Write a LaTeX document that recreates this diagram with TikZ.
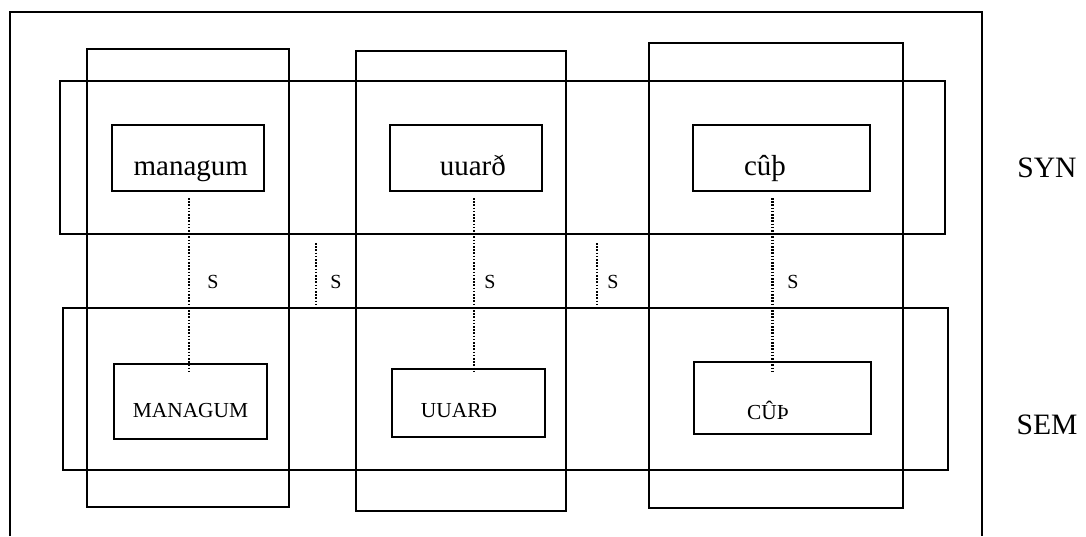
\documentclass[tikz,border=0pt]{standalone}
\usepackage{fontspec}
\setmainfont{Liberation Serif}
\usepackage{tikz}
\usetikzlibrary{positioning,calc}
\tikzset{
    x=0.5pt,
    y=-0.5pt,
    band/.style = {
        draw,
        shape=rectangle,
        inner sep=0pt,
        minimum width=442.5pt,
        line width=1pt
    },
    pillar/.style = {
        draw,
        shape=rectangle,
        inner sep=0pt,
        line width=1pt
    },
    wordbox/.style = {
        draw,
        shape=rectangle,
        inner sep=0pt,
        line width=1pt
    },
    word/.style = {
        anchor=base,
        inner sep=0pt,
        font=\fontsize{14.5}{17}\selectfont
    },
    semword/.style = {
        anchor=base,
        inner sep=0pt,
        font=\fontsize{10.7}{13}\selectfont
    },
    slabel/.style = {
        anchor=base,
        inner sep=0pt,
        font=\fontsize{10}{12}\selectfont
    },
    side/.style = {
        anchor=base,
        inner sep=0pt,
        font=\fontsize{14.8}{17}\selectfont
    },
    link/.style = {
        line width=1.3pt,
        dash pattern=on 0.8pt off 0.8pt
    },
}
\begin{document}
\begin{tikzpicture}
                \useasboundingbox (0,0) rectangle (1086,536);

                \node[band, minimum height=76.5pt] (syn) at (502.5,157.5) {};
                \node[band, minimum height=81pt] (sem) at (505.5,389) {};
                \node[pillar, minimum width=101pt, minimum height=229pt] (col1) at (188,278) {};
                \node[pillar, minimum width=105pt, minimum height=230pt] (col2) at (461,281) {};
                \node[pillar, minimum width=127pt, minimum height=232.5pt] (col3) at (776,275.5) {};

                \node[wordbox, minimum width=76pt, minimum height=33pt] (w1) at (188,158) {};
                \node[wordbox, minimum width=76pt, minimum height=33pt] (w2) at (466,158) {};
                \node[wordbox, minimum width=88.5pt, minimum height=33pt] (w3) at (781.5,158) {};
                \node[wordbox, minimum width=76.5pt, minimum height=37.5pt] (m1) at (190.5,401.5) {};
                \node[wordbox, minimum width=76.5pt, minimum height=34pt] (m2) at (468.5,403) {};
                \node[wordbox, minimum width=88.5pt, minimum height=36pt] (m3) at (782.5,398) {};

                \node[word] (w1text) at (190.8,175) {managum};
                \node[word] (w2text) at (472.8,175) {uuarð};
                \node[word] (w3text) at (765,175) {cûþ};
                \node[semword] (m1text) at (190.5,417.7) {MANAGUM};
                \node[semword] (m2text) at (459,417.7) {UUARÐ};
                \node[semword] (m3text) at (768,419) {CÛÞ};

                \node[side] (synlabel) at (1047,177) {SYN};
                \node[side] (semlabel) at (1047,434) {SEM};

                % outer frame, open at the bottom
                \coordinate (fbl) at (10,536);
                \coordinate (ftl) at (10,12);
                \coordinate (ftr) at (982,12);
                \coordinate (fbr) at (982,536);
                \path[draw, line width=1pt] (fbl) -- (ftl) -- (ftr) -- (fbr);

                \coordinate (gap1) at (316,0);
                \coordinate (gap2) at (597,0);

                \path[draw, link, shorten <=3pt, shorten >=-4.5pt] ([xshift=0.5]w1.south) -- ([xshift=0.5]w1.south |- m1.north);
                \path[draw, link, shorten <=3pt, shorten >=-2pt] ([xshift=4]w2.south) -- ([xshift=4]w2.south |- m2.north);
                \path[draw, link, shorten <=3pt, shorten >=-5.5pt] ([xshift=-4.5]w3.south) -- ([xshift=-4.5]w3.south |- m3.north);
                \path[draw, link, shorten <=4pt, shorten >=1.5pt] (gap1 |- syn.south) -- (gap1 |- sem.north);
                \path[draw, link, shorten <=4pt, shorten >=1.5pt] (gap2 |- syn.south) -- (gap2 |- sem.north);

                \node[slabel] (s1) at (213,288) {S};
                \node[slabel] (s2) at (336,288) {S};
                \node[slabel] (s3) at (490,288) {S};
                \node[slabel] (s4) at (613,288) {S};
                \node[slabel] (s5) at (793,288) {S};
            \end{tikzpicture}
\end{document}
